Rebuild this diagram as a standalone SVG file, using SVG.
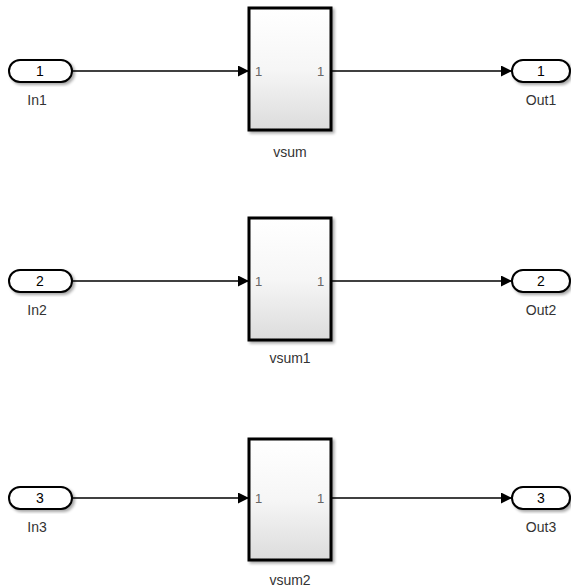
<svg xmlns="http://www.w3.org/2000/svg" width="571" height="588" viewBox="0 0 571 588">
<defs>
<linearGradient id="g" x1="0" y1="0" x2="0" y2="1">
<stop offset="0" stop-color="#ffffff"/>
<stop offset="0.5" stop-color="#f6f6f6"/>
<stop offset="1" stop-color="#dcdcdc"/>
</linearGradient>
<filter id="sh" x="-20%" y="-20%" width="140%" height="140%">
<feGaussianBlur in="SourceAlpha" stdDeviation="1.5"/>
<feOffset dx="2" dy="2"/>
<feComponentTransfer><feFuncA type="linear" slope="0.35"/></feComponentTransfer>
<feMerge><feMergeNode/><feMergeNode in="SourceGraphic"/></feMerge>
</filter>
<marker id="ar" markerWidth="11" markerHeight="11" refX="11" refY="5.5" orient="auto" markerUnits="userSpaceOnUse">
<path d="M0,0 L11,5.5 L0,11 Z" fill="#000"/>
</marker>
</defs>
<style>
.port{fill:#fff;stroke:#000;stroke-width:2;filter:url(#sh)}
.blk{fill:url(#g);stroke:#000;stroke-width:3;filter:url(#sh)}
.num{font-family:"Liberation Sans",Arial,sans-serif;font-size:14px;text-anchor:middle;fill:#000}
.lbl{font-family:"Liberation Sans",Arial,sans-serif;font-size:14px;text-anchor:middle;fill:#333}
.pl{font-family:"Liberation Sans",Arial,sans-serif;font-size:13px;fill:#666}
.ln{stroke:#000;stroke-width:1.3;fill:none;marker-end:url(#ar)}
</style>
<g id="connectors">
<line class="ln" x1="72" y1="71" x2="249" y2="71"/>
<line class="ln" x1="331" y1="71" x2="512" y2="71"/>
<line class="ln" x1="72" y1="281" x2="249" y2="281"/>
<line class="ln" x1="331" y1="281" x2="512" y2="281"/>
<line class="ln" x1="72" y1="498" x2="249" y2="498"/>
<line class="ln" x1="331" y1="498" x2="512" y2="498"/>
</g>
<g id="In1">
<rect class="port" x="9" y="60" width="63" height="22" rx="11"/>
<text class="num" x="40" y="76">1</text>
<text class="lbl" x="37" y="105">In1</text>
</g>
<g id="vsum">
<rect class="blk" x="249" y="8" width="82" height="122"/>
<text class="pl" x="255" y="76">1</text>
<text class="pl" x="317" y="76">1</text>
<text class="lbl" x="290" y="157">vsum</text>
</g>
<g id="Out1">
<rect class="port" x="512" y="60" width="58" height="22" rx="11"/>
<text class="num" x="541" y="76">1</text>
<text class="lbl" x="541" y="105">Out1</text>
</g>
<g id="In2">
<rect class="port" x="9" y="270" width="63" height="22" rx="11"/>
<text class="num" x="40" y="286">2</text>
<text class="lbl" x="37" y="315">In2</text>
</g>
<g id="vsum1">
<rect class="blk" x="249" y="218" width="82" height="122"/>
<text class="pl" x="255" y="286">1</text>
<text class="pl" x="317" y="286">1</text>
<text class="lbl" x="290" y="363">vsum1</text>
</g>
<g id="Out2">
<rect class="port" x="512" y="270" width="58" height="22" rx="11"/>
<text class="num" x="541" y="286">2</text>
<text class="lbl" x="541" y="315">Out2</text>
</g>
<g id="In3">
<rect class="port" x="9" y="487" width="63" height="22" rx="11"/>
<text class="num" x="40" y="503">3</text>
<text class="lbl" x="37" y="532">In3</text>
</g>
<g id="vsum2">
<rect class="blk" x="249" y="439" width="82" height="121"/>
<text class="pl" x="255" y="503">1</text>
<text class="pl" x="317" y="503">1</text>
<text class="lbl" x="290" y="585">vsum2</text>
</g>
<g id="Out3">
<rect class="port" x="512" y="487" width="58" height="22" rx="11"/>
<text class="num" x="541" y="503">3</text>
<text class="lbl" x="541" y="532">Out3</text>
</g>
</svg>
